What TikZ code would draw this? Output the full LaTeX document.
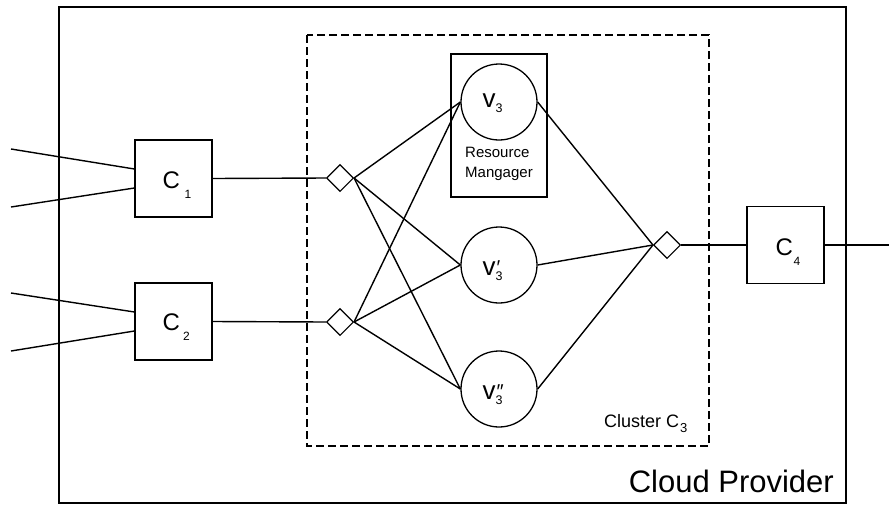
\documentclass[tikz,border=0pt]{standalone}
\usepackage{fontspec}
\setmainfont{Liberation Sans}
\usetikzlibrary{shapes.geometric}

% component label: letter C with a deeply lowered index
\newcommand\clab[2]{C\kern#2\smash{\raisebox{-10pt}{\fontsize{12}{12}\selectfont #1}}}
% machine label: v with index 3 and an optional prime stacked above it
\newcommand\vlab[1]{v\smash{\makebox[0pt][l]{\kern1pt\raisebox{1pt}{\fontsize{20}{20}\selectfont #1}}%
  \raisebox{-5pt}{\fontsize{12.5}{12.5}\selectfont 3}}}

\begin{document}
\begin{tikzpicture}[x=1pt,y=-1pt,
  compbox/.style={draw,rectangle,minimum width=77pt,minimum height=77pt,inner sep=0pt,
    line width=1.2pt,font=\fontsize{24}{28}\selectfont},
  vmnode/.style={draw,circle,minimum size=76pt,inner sep=0pt,line width=1.3pt,
    font=\fontsize{26}{28}\selectfont},
  junction/.style={draw,diamond,minimum width=27pt,minimum height=27pt,inner sep=0pt,
    line width=1.1pt,fill=white},
  link/.style={line width=1.4pt}]
\useasboundingbox (0,0) rectangle (889,504);

% cloud provider frame and cluster frame
\draw[line width=2pt] (59,6.5) rectangle (846,503);
\draw[line width=1.4pt,dash pattern=on 8pt off 4pt] (307,35) rectangle (709,446);

% resource manager box around v3
\node[draw,rectangle,minimum width=96pt,minimum height=143pt,inner sep=0pt,line width=1.3pt] (rm) at (499,125.5) {};
\node[align=left,font=\fontsize{15}{20}\selectfont] (rmtext) at (499,164) {Resource\\Mangager};

% components
\node[compbox] (c1) at (173.5,178.5) {};
\node[compbox] (c2) at (173.5,321.5) {};
\node[compbox] (c4) at (785.5,245) {};
\node[anchor=base west,inner sep=0pt,font=\fontsize{24}{28}\selectfont] (c1l) at (162.5,188.3) {\clab{1}{4.5pt}};
\node[anchor=base west,inner sep=0pt,font=\fontsize{24}{28}\selectfont] (c2l) at (162.5,330) {\clab{2}{3pt}};
\node[anchor=base west,inner sep=0pt,font=\fontsize{24}{28}\selectfont] (c4l) at (775.5,255) {\clab{4}{0.5pt}};

% virtual machines
\node[vmnode] (v3) at (499,102) {};
\node[vmnode] (v3p) at (499,265) {};
\node[vmnode] (v3pp) at (499,389) {};
\node[anchor=base west,inner sep=0pt,font=\fontsize{26}{28}\selectfont] (v3l) at (482.5,107) {\vlab{}};
\node[anchor=base west,inner sep=0pt,font=\fontsize{26}{28}\selectfont] (v3pl) at (482.5,275) {\vlab{′}};
\node[anchor=base west,inner sep=0pt,font=\fontsize{26}{28}\selectfont] (v3ppl) at (482.5,399) {\vlab{″}};

% junctions
\node[junction] (d1) at (340,178) {};
\node[junction] (d2) at (340,322) {};
\node[junction] (d3) at (667,245) {};

% free ends of the external links
\coordinate (in11) at (11,149);
\coordinate (in12) at (11,207);
\coordinate (in21) at (11,293);
\coordinate (in22) at (11,351);
\coordinate (out) at (889,245);

% external links
\draw[link] (in11) -- ([yshift=9.5pt]c1.west);
\draw[link] (in12) -- ([yshift=-9.5pt]c1.west);
\draw[link] (in21) -- ([yshift=9.5pt]c2.west);
\draw[link] (in22) -- ([yshift=-9.5pt]c2.west);
\draw[link] (c4.east) -- (out);

% links into and out of the cluster
\draw[link] (c1.east) -- (d1.west);
\draw[link] (c2.east) -- (d2.west);
\draw[link] (d3.east) -- (c4.west);

\foreach \d in {d1,d2}
  \foreach \v in {v3,v3p,v3pp}
    \draw[link] (\d.east) -- (\v.west);
\foreach \v in {v3,v3p,v3pp}
  \draw[link] (\v.east) -- (d3.west);

% captions
\node[anchor=base west,font=\fontsize{18}{20}\selectfont,inner sep=0pt] (cl) at (604,427)
  {Cluster C\kern1pt\raisebox{-5pt}{\fontsize{13}{13}\selectfont 3}};
\node[anchor=base east,font=\fontsize{31}{34}\selectfont,inner sep=0pt] (cp) at (834,492) {Cloud Provider};
\end{tikzpicture}
\end{document}
